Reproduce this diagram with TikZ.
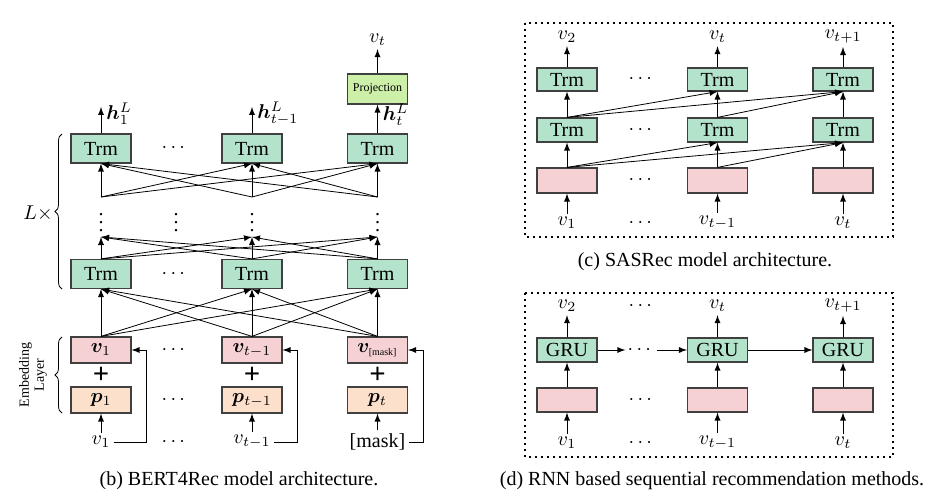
\documentclass[tikz,border=0pt]{standalone}
\usepackage{amsmath}
\usepackage{bm}
\usepackage{fontspec}
\setmainfont{Liberation Serif}
\usepackage{tikz}
\usetikzlibrary{arrows}
\usetikzlibrary{positioning,calc,decorations.pathreplacing}
\definecolor{trmgreen}{HTML}{B4E3CB}
\definecolor{projgreen}{HTML}{CDF0A8}
\definecolor{embpink}{HTML}{F6D1D3}
\definecolor{pospeach}{HTML}{FDE0CC}

\begin{document}
\begin{tikzpicture}[>=latex, x=0.5pt, y=-0.5pt,
		cell/.style={draw=black!75, line width=0.6pt, inner sep=0pt, minimum width=30pt},
		trmbox/.style={cell, fill=trmgreen, minimum height=14.5pt},
		smallbox/.style={cell, fill=trmgreen, minimum height=12pt},
		embbox/.style={cell, fill=embpink, minimum height=13pt},
		posbox/.style={cell, fill=pospeach, minimum height=13pt},
		projbox/.style={cell, fill=projgreen, minimum height=15pt},
		tok/.style={inner sep=1.5pt},
		hlab/.style={right, xshift=1.5pt, inner sep=1pt},
		frame/.style={line width=0.9pt, dash pattern=on 0.8pt off 2.2pt}]
			\useasboundingbox (0,0) rectangle (940,502);
			% (b) BERT4Rec
			\node[trmbox] (bt1) at (101,148.5) {Trm};
			\node[trmbox] (bt2) at (252,148.5) {Trm};
			\node[trmbox] (bt3) at (377.5,148.5) {Trm};
			\node[projbox] (proj) at (377.5,89) {\fontsize{6}{7}\selectfont Projection};
			\node[tok] (out) at (377.5,40) {$v_t$};
			\draw[->] (proj) -- (out);
			\coordinate (h1) at (101,107);
			\coordinate (h2) at (252,107);
			\draw[->] (bt1) -- (h1) node[pos=0.75,hlab] {$\bm{h}^L_1$};
			\draw[->] (bt2) -- (h2) node[pos=0.75,hlab] {$\bm{h}^L_{t-1}$};
			\draw[->] (bt3) -- (proj) node[pos=0.65,hlab] {$\bm{h}^L_t$};
			\coordinate (ta1) at (101,197);
			\coordinate (ta2) at (252,197);
			\coordinate (ta3) at (377.5,197);
			\foreach \i in {1,2,3}
				\foreach \j in {1,2,3}
					\draw[->] (ta\i) -- (bt\j.south);
			\node at (101,217) {$\vdots$};
			\node at (176,217) {$\vdots$};
			\node at (252,217) {$\vdots$};
			\node at (377.5,217) {$\vdots$};
			\node[trmbox] (bl1) at (101,274) {Trm};
			\node[trmbox] (bl2) at (252,274) {Trm};
			\node[trmbox] (bl3) at (377.5,274) {Trm};
			\coordinate (ba1) at (101,237);
			\coordinate (ba2) at (252,237);
			\coordinate (ba3) at (377.5,237);
			\node[embbox] (emb1) at (101,350) {$\bm{v}_1$};
			\node[embbox] (emb2) at (252,350) {$\bm{v}_{t-1}$};
			\node[embbox] (emb3) at (377.5,350) {$\bm{v}_{\text{\tiny[mask]}}$};
			\foreach \i in {1,2,3}
				\foreach \j in {1,2,3} {
					\draw[->] (bl\i.north) -- (ba\j);
					\draw[->] (emb\i.north) -- (bl\j.south);
				}
			\node at (101,375) {\Large\textbf{+}};
			\node at (252,375) {\Large\textbf{+}};
			\node at (377.5,375) {\Large\textbf{+}};
			\node[posbox] (pos1) at (101,400) {$\bm{p}_1$};
			\node[posbox] (pos2) at (252,400) {$\bm{p}_{t-1}$};
			\node[posbox] (pos3) at (377.5,400) {$\bm{p}_t$};
			\node[tok] (in1) at (101,442) {$v_1$};
			\node[tok] (in2) at (252,442) {$v_{t-1}$};
			\node[tok] (in3) at (377.5,442) {[mask]};
			\foreach \i in {1,2,3} {
				\draw[->] (in\i) -- (pos\i);
				\draw[->] (in\i.east) -| ([xshift=7.5pt]emb\i.east) -- (emb\i.east);
			}
			\node at (175,148.5) {$\cdots$};
			\node at (175,274) {$\cdots$};
			\node at (175,350) {$\cdots$};
			\node at (175,400) {$\cdots$};
			\node at (175,442) {$\cdots$};
			\draw[decorate,decoration={brace,amplitude=3.5pt}] (62,289) -- (62,134);
			\node at (38,213) {$L{\times}$};
			\draw[decorate,decoration={brace,amplitude=3.5pt}] (62,413) -- (62,337);
			\node[rotate=90, align=center, font=\fontsize{7}{7.5}\selectfont] at (33,375) {Embedding\\Layer};
			\node at (239,481) {(b) BERT4Rec model architecture.};

			% (c) SASRec
			\draw[frame] (525,23) rectangle (893,237);
			\node[tok] (co1) at (567,37) {$v_2$};
			\node[tok] (co2) at (717.5,37) {$v_t$};
			\node[tok] (co3) at (843,37) {$v_{t+1}$};
			\node[smallbox, minimum height=11.5pt] (ct1) at (567,79.5) {Trm};
			\node[smallbox, minimum height=11.5pt] (ct2) at (717.5,79.5) {Trm};
			\node[smallbox, minimum height=11.5pt] (ct3) at (843,79.5) {Trm};
			\node[smallbox] (cm1) at (567,130) {Trm};
			\node[smallbox] (cm2) at (717.5,130) {Trm};
			\node[smallbox] (cm3) at (843,130) {Trm};
			\node[embbox, minimum height=12.5pt] (ce1) at (567,180.5) {};
			\node[embbox, minimum height=12.5pt] (ce2) at (717.5,180.5) {};
			\node[embbox, minimum height=12.5pt] (ce3) at (843,180.5) {};
			\node[tok] (ci1) at (567,223) {$v_1$};
			\node[tok] (ci2) at (717.5,223) {$v_{t-1}$};
			\node[tok] (ci3) at (843,223) {$v_t$};
			\foreach \i in {1,2,3} {
				\draw[->] (ct\i) -- (co\i);
				\draw[->] (cm\i) -- (ct\i);
				\draw[->] (ce\i) -- (cm\i);
				\draw[->] (ci\i) -- (ce\i);
			}
			\draw[->] (cm1.north) -- (ct2.south);
			\draw[->] (cm1.north) -- (ct3.south);
			\draw[->] (cm2.north) -- (ct3.south);
			\draw[->] (ce1.north) -- (cm2.south);
			\draw[->] (ce1.north) -- (cm3.south);
			\draw[->] (ce2.north) -- (cm3.south);
			\node at (642,79.5) {$\cdots$};
			\node at (642,130) {$\cdots$};
			\node at (642,180.5) {$\cdots$};
			\node at (642,223) {$\cdots$};
			\node at (705,262) {(c) SASRec model architecture.};

			% (d) RNN
			\draw[frame] (525,293) rectangle (893,457);
			\node[tok] (do1) at (567,306) {$v_2$};
			\node[tok] (do2) at (717.5,306) {$v_t$};
			\node[tok] (do3) at (843,306) {$v_{t+1}$};
			\node[smallbox] (gru1) at (567,350) {GRU};
			\node[smallbox] (gru2) at (717.5,350) {GRU};
			\node[smallbox] (gru3) at (843,350) {GRU};
			\node[embbox, minimum height=12pt] (de1) at (567,400) {};
			\node[embbox, minimum height=12pt] (de2) at (717.5,400) {};
			\node[embbox, minimum height=12pt] (de3) at (843,400) {};
			\node[tok] (di1) at (567,443) {$v_1$};
			\node[tok] (di2) at (717.5,443) {$v_{t-1}$};
			\node[tok] (di3) at (843,443) {$v_t$};
			\foreach \i in {1,2,3} {
				\draw[->] (gru\i) -- (do\i);
				\draw[->] (de\i) -- (gru\i);
				\draw[->] (di\i) -- (de\i);
			}
			\node[inner sep=1pt] (gdots) at (641,350) {$\cdots$};
			\draw[->] (gru1) -- (gdots);
			\draw[->] (gdots) -- (gru2);
			\draw[->] (gru2) -- (gru3);
			\node at (642,306) {$\cdots$};
			\node at (642,400) {$\cdots$};
			\node at (642,443) {$\cdots$};
			\node at (712,481) {(d) RNN based sequential recommendation methods.};
\end{tikzpicture}
\end{document}
